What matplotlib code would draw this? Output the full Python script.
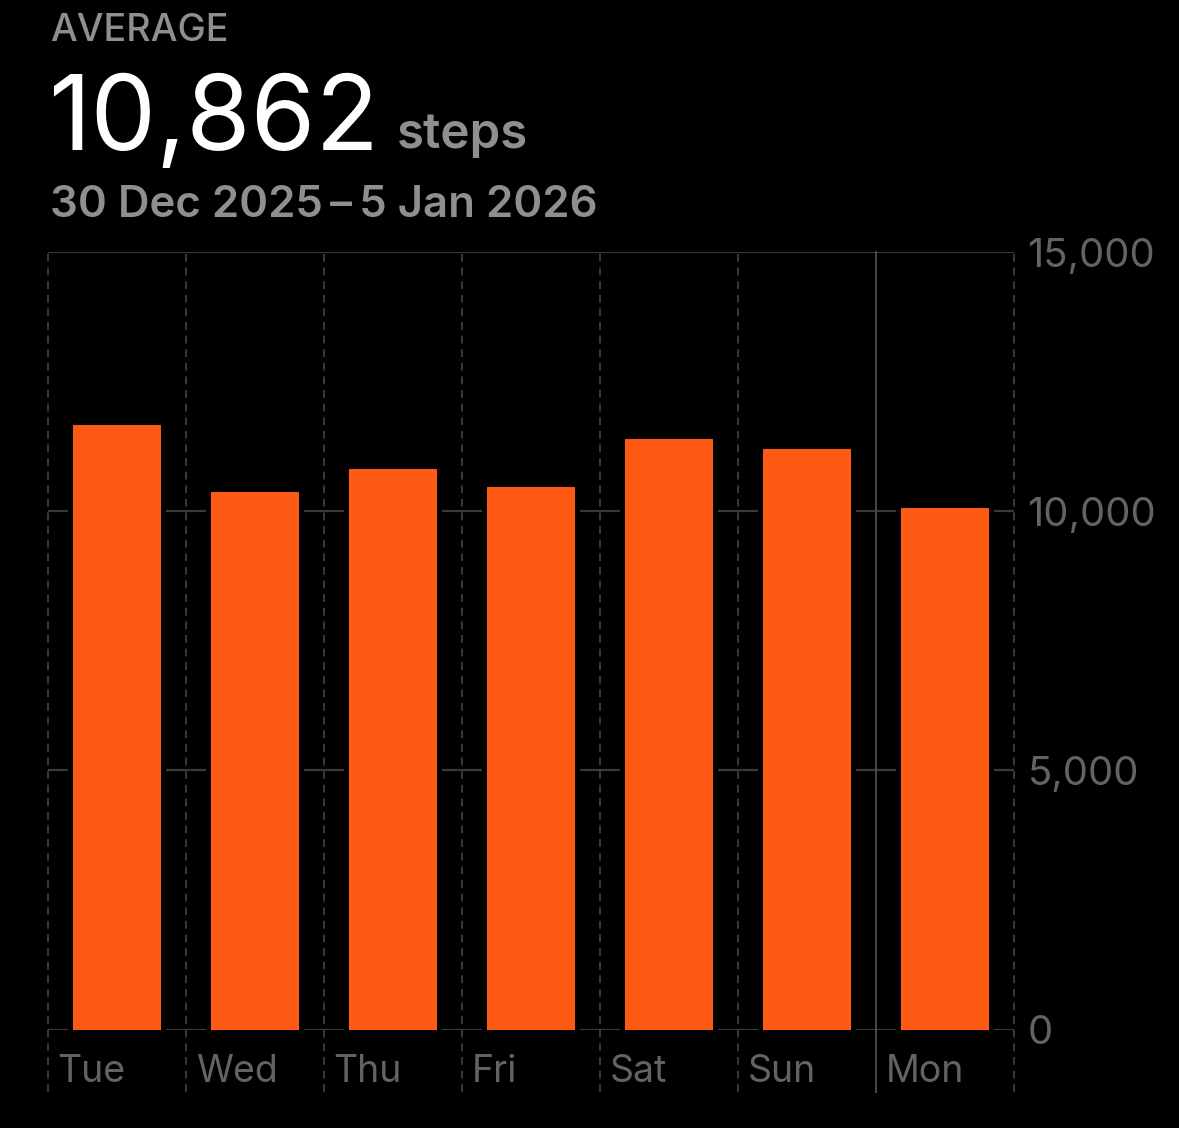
import matplotlib.pyplot as plt
from matplotlib.transforms import blended_transform_factory

days = ["Tue", "Wed", "Thu", "Fri", "Sat", "Sun", "Mon"]
steps = [11660, 10370, 10810, 10470, 11390, 11200, 10070]
average = 10862
date_range = "30 Dec 2025\u2009\u2013\u20095 Jan 2026"
y_ticks = [0, 5000, 10000, 15000]
week_start = "Mon"

BG = "#000000"
ORANGE = "#FF5A14"
LABEL_GREY = "#8E8E93"
TICK_GREY = "#636366"
GRID = "#3A3A3C"

plt.rcParams["font.family"] = ["Inter", "DejaVu Sans"]

fig = plt.figure(figsize=(11.79, 11.28), dpi=100, facecolor=BG)
ax = fig.add_axes([48 / 1179, 1 - 1029.5 / 1128, 966 / 1179, 777.5 / 1128])
ax.set_facecolor(BG)

x = range(len(days))
ax.set_xlim(-0.5, len(days) - 0.5)
ax.set_ylim(0, 15000)

# horizontal grid
for v in y_ticks:
    ax.axhline(v, color=GRID, lw=1.6, zorder=1)

# day separators, dashed except at the start of the week
trans = blended_transform_factory(ax.transData, ax.transAxes)
for i in range(len(days) + 1):
    sx = i - 0.5
    solid = i < len(days) and days[i] == week_start
    ax.plot([sx, sx], [-0.081, 1], transform=trans, clip_on=False,
            color="#4A4A4D" if solid else GRID, lw=1.4,
            ls="-" if solid else (0, (4, 3)), zorder=1)

# black halo so grid lines stop short of the bars, then the bars
ax.bar(x, steps, width=0.71, color=BG, zorder=2)
ax.bar(x, steps, width=0.64, color=ORANGE, zorder=3)

for sp in ax.spines.values():
    sp.set_visible(False)
ax.set_xticks([])
ax.set_yticks([])

ytrans = blended_transform_factory(ax.transAxes, ax.transData)
for v in y_ticks:
    ax.text(1.014, v, f"{v:,}", transform=ytrans,
            color=TICK_GREY, fontsize=28.8, va="center_baseline", ha="left")

for i, d in enumerate(days):
    ax.text(i - 0.43, -0.055, d, transform=trans, color=TICK_GREY,
            fontsize=27, va="center", ha="left")

fig.text(50 / 1179, 1 - 31 / 1128, "AVERAGE", color=LABEL_GREY,
         fontsize=27.2, fontweight="medium", va="center", ha="left")
fig.text(48 / 1179, 1 - 150 / 1128, f"{average:,}", color="white",
         fontsize=75, va="baseline", ha="left")
fig.text(397 / 1179, 1 - 148 / 1128, "steps", color=LABEL_GREY,
         fontsize=35.5, fontweight="semibold", va="baseline", ha="left")
fig.text(50 / 1179, 1 - 217 / 1128, date_range, color=LABEL_GREY,
         fontsize=31.5, fontweight="semibold", va="baseline", ha="left")

fig.savefig("out.png", dpi=100, facecolor=BG)
